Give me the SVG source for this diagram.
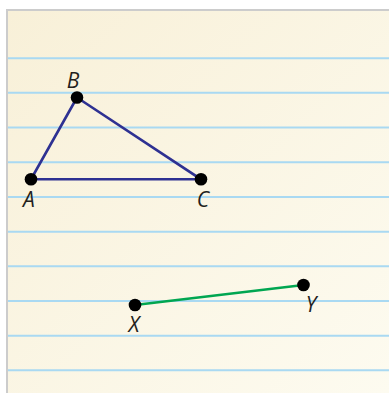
<svg xmlns="http://www.w3.org/2000/svg" width="389" height="393" viewBox="0 0 389 393">
<defs>
<linearGradient id="paper" x1="0" y1="0" x2="1" y2="1">
<stop offset="0" stop-color="#f8f0d8"/>
<stop offset="1" stop-color="#fdfbf0"/>
</linearGradient>
<style>
.rule{stroke:#a9d9f2;stroke-width:2}
.tri{stroke:#2e3192;stroke-width:2.6;fill:none}
.seg{stroke:#00a651;stroke-width:2.6;fill:none}
.pt{fill:#000}
.lbl{font-family:"Open Sans","Liberation Sans",sans-serif;font-style:italic;font-size:21px;fill:#231f20}
</style>
</defs>
<rect x="0" y="0" width="389" height="393" fill="#fff"/>
<rect x="6" y="9" width="383" height="384" fill="#cccccc"/>
<rect x="8" y="11" width="381" height="382" fill="url(#paper)"/>
<g id="rules">
<line class="rule" x1="8" y1="58.3" x2="389" y2="58.3"/>
<line class="rule" x1="8" y1="92.8" x2="389" y2="92.8"/>
<line class="rule" x1="8" y1="127.5" x2="389" y2="127.5"/>
<line class="rule" x1="8" y1="162.3" x2="389" y2="162.3"/>
<line class="rule" x1="8" y1="197" x2="389" y2="197"/>
<line class="rule" x1="8" y1="231.7" x2="389" y2="231.7"/>
<line class="rule" x1="8" y1="266.3" x2="389" y2="266.3"/>
<line class="rule" x1="8" y1="301" x2="389" y2="301"/>
<line class="rule" x1="8" y1="335.7" x2="389" y2="335.7"/>
<line class="rule" x1="8" y1="370.3" x2="389" y2="370.3"/>
</g>
<g id="connectors">
<polygon class="tri" points="77,97.5 31,179.3 201,179.3"/>
<line class="seg" x1="135" y1="305" x2="303.5" y2="285"/>
</g>
<g id="node-A"><circle class="pt" cx="31" cy="179.3" r="6.3"/><text class="lbl" x="29" y="207" text-anchor="middle">A</text></g>
<g id="node-B"><circle class="pt" cx="77" cy="97.5" r="6.3"/><text class="lbl" x="73" y="88" text-anchor="middle">B</text></g>
<g id="node-C"><circle class="pt" cx="201" cy="179.3" r="6.3"/><text class="lbl" x="203" y="207" text-anchor="middle">C</text></g>
<g id="node-X"><circle class="pt" cx="135" cy="305" r="6.3"/><text class="lbl" x="134" y="332" text-anchor="middle">X</text></g>
<g id="node-Y"><circle class="pt" cx="303.5" cy="285" r="6.3"/><text class="lbl" x="311" y="312" text-anchor="middle">Y</text></g>
</svg>
